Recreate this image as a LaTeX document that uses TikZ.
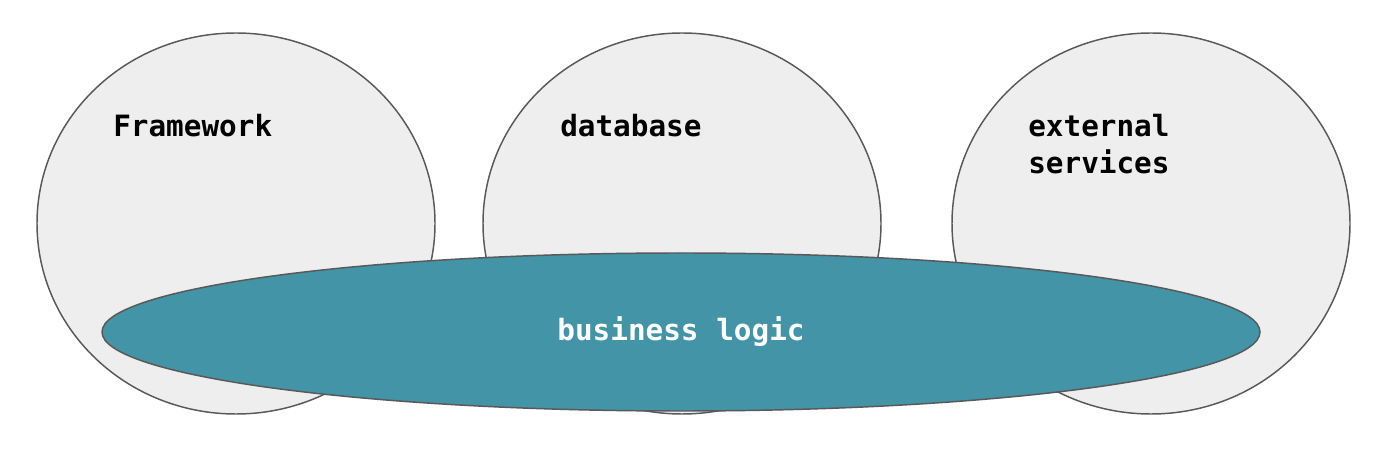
\documentclass[tikz,border=0pt]{standalone}
\usepackage{fontspec}
\setmonofont{DejaVu Sans Mono}
\usepackage{tikz}
\usetikzlibrary{shapes.geometric}

\definecolor{layerfill}{RGB}{238,238,238}
\definecolor{layerline}{RGB}{89,89,89}
\definecolor{coreteal}{RGB}{66,148,166}

\begin{document}
\begin{tikzpicture}[x=0.75pt,y=0.75pt,yscale=-1,xscale=1,
    layer/.style={ellipse, draw=layerline, fill=layerfill, line width=1.1pt, inner sep=0pt, minimum width=398*0.75pt, minimum height=381*0.75pt},
    core/.style={ellipse, draw=layerline, fill=coreteal, line width=1.1pt, inner sep=0pt, minimum width=1158*0.75pt, minimum height=158*0.75pt},
    lbl/.style={inner sep=0pt, font=\fontsize{22}{27.75}\selectfont\ttfamily\bfseries, align=left}]
        \useasboundingbox (0,0) rectangle (1400,466);

        % Outer layers
        \node [layer] (framework) at (236,223.5) {};
        \node [layer] (database) at (682,223.5) {};
        \node [layer] (services) at (1151,223.5) {};

        % Inner layer
        \node [core] (logic) at (681,332) {};

        % Text Node
        \node [lbl, anchor=base west] (frameworktxt) at (113,137) {Framework};
        \node [lbl, anchor=base west] (databasetxt) at (560,137) {database};
        \node [lbl, anchor=base west] (servicestxt) at (1028,174) {external\\services};
        \node [lbl, text=white, anchor=base] (logictxt) at (681,341) {business logic};
\end{tikzpicture}
\end{document}
